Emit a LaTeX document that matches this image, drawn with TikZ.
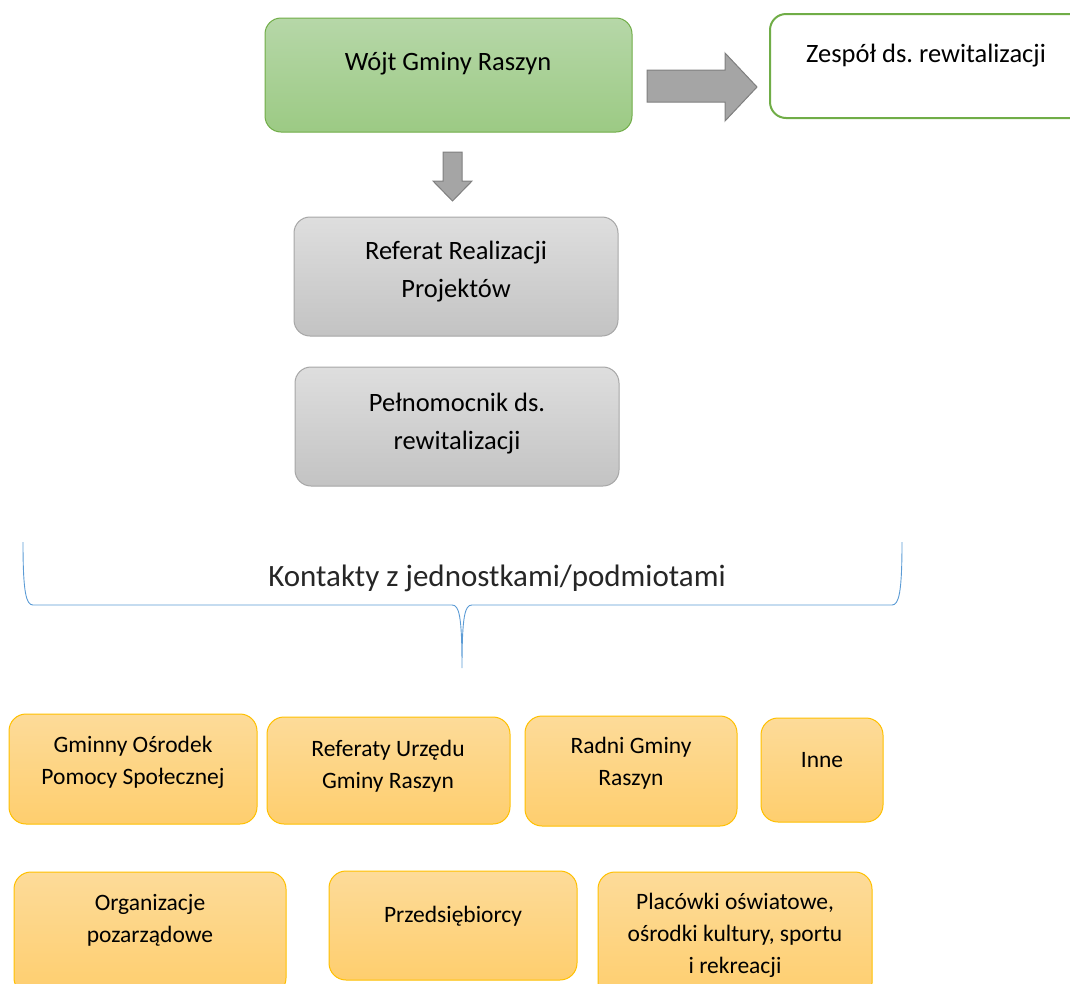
\documentclass[tikz,border=0pt]{standalone}
\usepackage{fontspec}
\setmainfont{Carlito}
\frenchspacing
\newcommand{\promien}{16pt}
\newcommand{\duzyTekst}{\fontsize{26.5}{38}\selectfont}
\newcommand{\malyTekst}{\fontsize{23.5}{32}\selectfont}
\definecolor{zielonyBrzeg}{HTML}{70AD47}
\definecolor{zielonyGora}{HTML}{B6D7A8}
\definecolor{zielonyDol}{HTML}{9CCA84}
\definecolor{szaryGora}{HTML}{DEDEDE}
\definecolor{szaryDol}{HTML}{C3C3C3}
\definecolor{szaryBrzeg}{HTML}{A6A6A6}
\definecolor{pomGora}{HTML}{FDDB99}
\definecolor{pomDol}{HTML}{FECE6E}
\definecolor{pomBrzeg}{HTML}{FFC000}
\definecolor{strzalkaWypelnienie}{HTML}{A5A5A5}
\definecolor{strzalkaBrzeg}{HTML}{7F7F7F}
\definecolor{klamraKolor}{HTML}{5B9BD5}
\tikzset{
	pole/.style={rounded corners=\promien, inner sep=0pt},
	zielonePole/.style={pole, draw=zielonyBrzeg, line width=1pt, top color=zielonyGora, bottom color=zielonyDol},
	bialePole/.style={pole, draw=zielonyBrzeg, line width=2pt, fill=white},
	szarePole/.style={pole, draw=szaryBrzeg, line width=1pt, top color=szaryGora, bottom color=szaryDol},
	pomPole/.style={pole, rounded corners=17pt, draw=pomBrzeg, line width=1pt, top color=pomGora, bottom color=pomDol},
	napisDuzy/.style={align=center, font=\duzyTekst, text=black},
	napisMaly/.style={align=center, font=\malyTekst, text=black},
	blokStrzalka/.style={draw=strzalkaBrzeg, line width=1pt, fill=strzalkaWypelnienie, line join=miter}
}

\begin{document}
\begin{tikzpicture}[x=1pt,y=-1pt]
	\useasboundingbox (0,0) rectangle (1070,983);
	\clip (0,0) rectangle (1070,983);
	% wójt i zespół
	\node[zielonePole, minimum width=367pt, minimum height=114pt] (wojt) at (448.5,75) {};
	\node[napisDuzy] (wojtNapis) at (448,64) {Wójt Gminy Raszyn};
	\node[bialePole, minimum width=320pt, minimum height=104pt] (zespol) at (930,66) {};
	\node[napisDuzy] (zespolNapis) at (926,56) {Zespół ds. rewitalizacji};
	% strzałki blokowe
	\draw[blokStrzalka] (647,70)--(725,70)--(725,53)--(757,87)--(725,121)--(725,102)--(647,102)--cycle;
	\draw[blokStrzalka] (443,152)--(462,152)--(462,181)--(472,181)--(452.5,201)--(433,181)--(443,181)--cycle;
	% referat i pełnomocnik
	\node[szarePole, minimum width=324pt, minimum height=119pt] (referat) at (456,276.5) {};
	\node[napisDuzy] (referatNapis) at (456,272) {Referat Realizacji\\Projektów};
	\node[szarePole, minimum width=324pt, minimum height=119pt] (pelnomocnik) at (457,426.5) {};
	\node[napisDuzy] (pelnomocnikNapis) at (457,423.5) {Pełnomocnik ds.\\rewitalizacji};
	% klamra
	\draw[klamraKolor, line width=0.9pt] (23,542) .. controls (23,592) and (26,605) .. (33,605)
	--(452,605) .. controls (459,605) and (462,615) .. (462,668)
	.. controls (462,615) and (465,605) .. (472,605)
	--(892,605) .. controls (899,605) and (902,592) .. (902,542);
	\node[font=\fontsize{31}{36}\selectfont, text=black!85] (kontakty) at (497,578) {Kontakty z jednostkami/podmiotami};
	% jednostki - pierwszy rząd
	\node[pomPole, minimum width=248pt, minimum height=110pt] (gops) at (133,769) {};
	\node[napisMaly] (gopsNapis) at (133,762) {Gminny Ośrodek\\Pomocy Społecznej};
	\node[pomPole, minimum width=243pt, minimum height=107pt] (referaty) at (388.5,770.5) {};
	\node[napisMaly] (referatyNapis) at (388,766) {Referaty Urzędu\\Gminy Raszyn};
	\node[pomPole, minimum width=212pt, minimum height=110pt] (radni) at (631,771) {};
	\node[napisMaly] (radniNapis) at (631,763) {Radni Gminy\\Raszyn};
	\node[pomPole, minimum width=122pt, minimum height=104pt] (inne) at (822,770) {};
	\node[napisMaly] (inneNapis) at (822,760) {Inne};
	% jednostki - drugi rząd
	\node[pomPole, minimum width=272pt, minimum height=123pt] (organizacje) at (150,933.5) {};
	\node[napisMaly] (organizacjeNapis) at (150,920) {Organizacje\\pozarządowe};
	\node[pomPole, minimum width=248pt, minimum height=109pt] (przedsiebiorcy) at (453,925.5) {};
	\node[napisMaly] (przedsiebiorcyNapis) at (453,916) {Przedsiębiorcy};
	\node[pomPole, minimum width=274pt, minimum height=128pt] (placowki) at (735,936) {};
	\node[napisMaly] (placowkiNapis) at (735,935) {Placówki oświatowe,\\ośrodki kultury, sportu\\i rekreacji};
\end{tikzpicture}
\end{document}
